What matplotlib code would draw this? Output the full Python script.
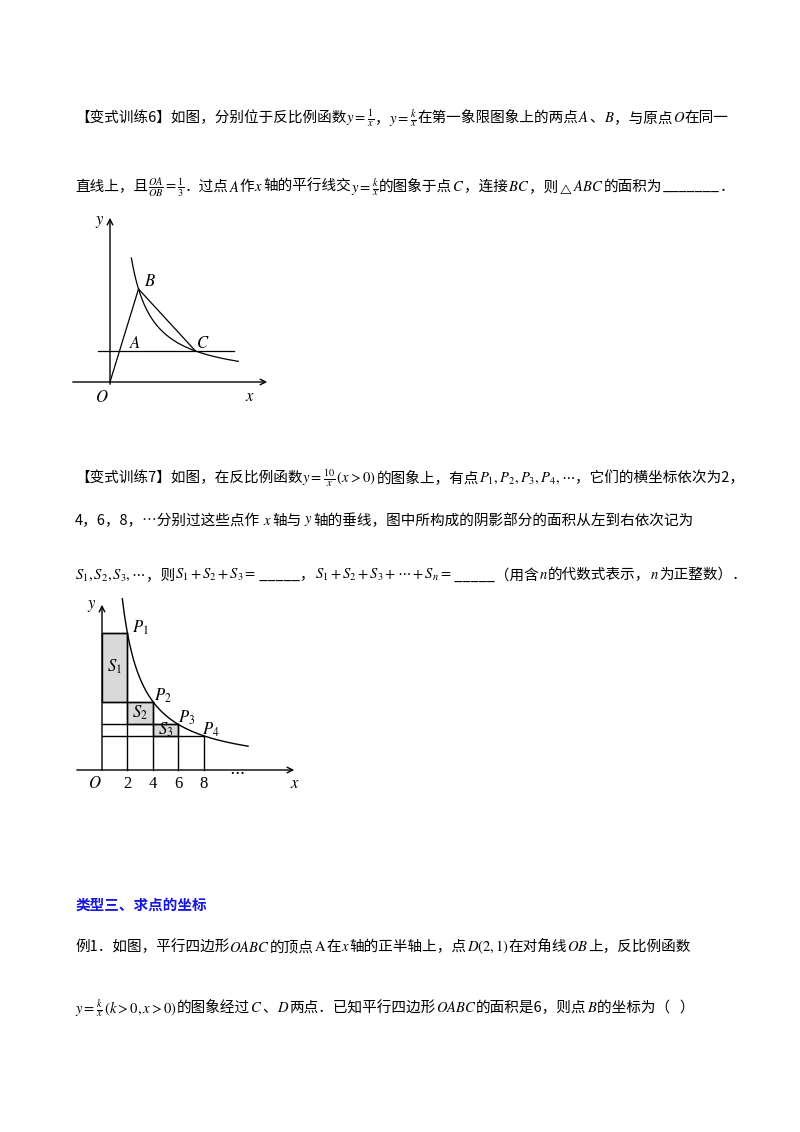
import numpy as np
import matplotlib
matplotlib.use("Agg")
import matplotlib.pyplot as plt
from matplotlib.patches import Rectangle

plt.rcParams['font.family'] = ['Noto Sans CJK SC', 'DejaVu Sans']
plt.rcParams['mathtext.fontset'] = 'stix'

# data
k1 = 1; k2 = 9
A = (1, 1); B = (3, 3); C = (9, 1)
k7 = 10
px = [2, 4, 6, 8]
tick_labels = ['2', '4', '6', '8']

fig = plt.figure(figsize=(8, 11.32), dpi=100)
W, H = 800, 1132
renderer = fig.canvas.get_renderer()

def line(y, segs, x=75, fs=10.5, color='black', weight='normal'):
    for s in segs:
        t = fig.text(x / W, 1 - y / H, s, fontsize=fs, color=color, weight=weight, va='center', ha='left')
        bb = t.get_window_extent(renderer)
        x += bb.width

line(118, ['【变式训练6】如图，分别位于反比例函数', r'$y=\frac{1}{x}$', '，', r'$y=\frac{k}{x}$',
           '在第一象限图象上的两点', r'$A$', '、', r'$B$', '，与原点', r'$O$', '在同一'])
line(187, ['直线上，且', r'$\frac{OA}{OB}=\frac{1}{3}$', '．过点', r'$A$', '作', r'$x$', '轴的平行线交',
           r'$y=\frac{k}{x}$', '的图象于点', r'$C$', '，连接', r'$BC$', '，则', r'$_{\triangle}ABC$',
           '的面积为', '_______', '．'])
line(478, ['【变式训练7】如图，在反比例函数', r'$y=\frac{10}{x}\,(x>0)$', '的图象上，有点',
           r'$P_1,P_2,P_3,P_4,\cdots$', '，它们的横坐标依次为2，'])
line(521, ['4，6，8，…分别过这些点作', r' $x$ ', '轴与', r' $y$ ', '轴的垂线，图中所构成的阴影部分的面积从左到右依次记为'])
line(575, [r'$S_1,S_2,S_3,\cdots$', '，则', r'$S_1+S_2+S_3=$', ' _____，', r'$S_1+S_2+S_3+\cdots+S_n=$',
           ' _____（用含', r'$n$', '的代数式表示，', r'$n$', '为正整数）．'])
line(905, ['类型三、求点的坐标'], color='#1515e0', weight='bold')
line(947, ['例1．如图，平行四边形', r'$OABC$', '的顶点', r'$\mathrm{A}$', '在', r'$x$', '轴的正半轴上，点',
           r'$D\left(2,1\right)$', '在对角线', r'$OB$', '上，反比例函数'])
line(1008, [r'$y=\frac{k}{x}\,(k>0,x>0)$', '的图象经过', r'$C$', '、', r'$D$', '两点．已知平行四边形',
            r'$OABC$', '的面积是6，则点', r'$B$', '的坐标为（   ）'])

def px_axes(x0, x1, y0, y1):
    return fig.add_axes([x0 / W, 1 - y1 / H, (x1 - x0) / W, (y1 - y0) / H])

# Diagram 1
ax = px_axes(60, 280, 205, 410)
sx, sy = 9.5, 31
ax.set_xlim(-50 / sx, 170 / sx); ax.set_ylim(-28 / sy, 177 / sy); ax.axis('off')
ax.annotate('', xy=(160 / sx, 0), xytext=(-40 / sx, 0), arrowprops=dict(arrowstyle='->', lw=1))
ax.annotate('', xy=(0, 167 / sy), xytext=(0, -5 / sy), arrowprops=dict(arrowstyle='->', lw=1))
xs = np.linspace(2.25, 13.5, 200)
ax.plot(xs, k2 / xs, color='black', lw=0.9)
ax.plot([0, B[0]], [0, B[1]], color='black', lw=0.9)
ax.plot([B[0], C[0]], [B[1], C[1]], color='black', lw=0.9)
ax.plot([-1.3, 13], [A[1], A[1]], color='black', lw=0.9)
fs = 12
ax.text(-1.6, 5.1, '$y$', fontsize=fs); ax.text(14.2, -0.6, '$x$', fontsize=fs)
ax.text(-1.6, -0.65, '$O$', fontsize=fs)
ax.text(B[0] + 0.6, B[1] + 0.1, '$B$', fontsize=fs)
ax.text(A[0] + 1.0, A[1] + 0.1, '$A$', fontsize=fs)
ax.text(C[0] + 0.1, C[1] + 0.1, '$C$', fontsize=fs)

# Diagram 2
ax2 = px_axes(70, 310, 595, 800)
sx, sy = 12.7, 27.4
ax2.set_xlim(-32 / sx, 208 / sx); ax2.set_ylim(-30 / sy, 175 / sy); ax2.axis('off')
ax2.annotate('', xy=(195 / sx, 0), xytext=(-28 / sx, 0), arrowprops=dict(arrowstyle='->', lw=1))
ax2.annotate('', xy=(0, 168 / sy), xytext=(0, -3 / sy), arrowprops=dict(arrowstyle='->', lw=1))
xs = np.linspace(1.6, 11.5, 200)
ax2.plot(xs, k7 / xs, color='black', lw=1)
ys = [k7 / v for v in px]
for i in range(3):
    ax2.add_patch(Rectangle((px[i] - 2, ys[i + 1]), 2, ys[i] - ys[i + 1], facecolor='#d9d9d9', edgecolor='black', lw=1))
for v, yv in zip(px, ys):
    ax2.plot([0, v], [yv, yv], color='black', lw=1)
    ax2.plot([v, v], [0, yv], color='black', lw=1)
for v, lab in zip(px, tick_labels):
    ax2.text(v, -0.65, lab, fontsize=12, ha='center', family='Liberation Serif')
ax2.text(-1.1, -0.65, '$O$', fontsize=12)
ax2.text(-1.2, 5.9, '$y$', fontsize=12); ax2.text(14.8, -0.65, '$x$', fontsize=12)
ax2.text(10.0, -0.2, r'$\cdots$', fontsize=12)
labs = ['$P_1$', '$P_2$', '$P_3$', '$P_4$']
offs = [(0.4, 0.0), (0.1, 0.05), (0.0, 0.05), (-0.1, 0.05)]
for v, yv, l, o in zip(px, ys, labs, offs):
    ax2.text(v + o[0], yv + o[1], l, fontsize=12)
for i, l in enumerate(['$S_1$', '$S_2$', '$S_3$']):
    ax2.text(px[i] - 1, (ys[i] + ys[i + 1]) / 2, l, fontsize=12, ha='center', va='center')

fig.savefig('out.png', dpi=100)
